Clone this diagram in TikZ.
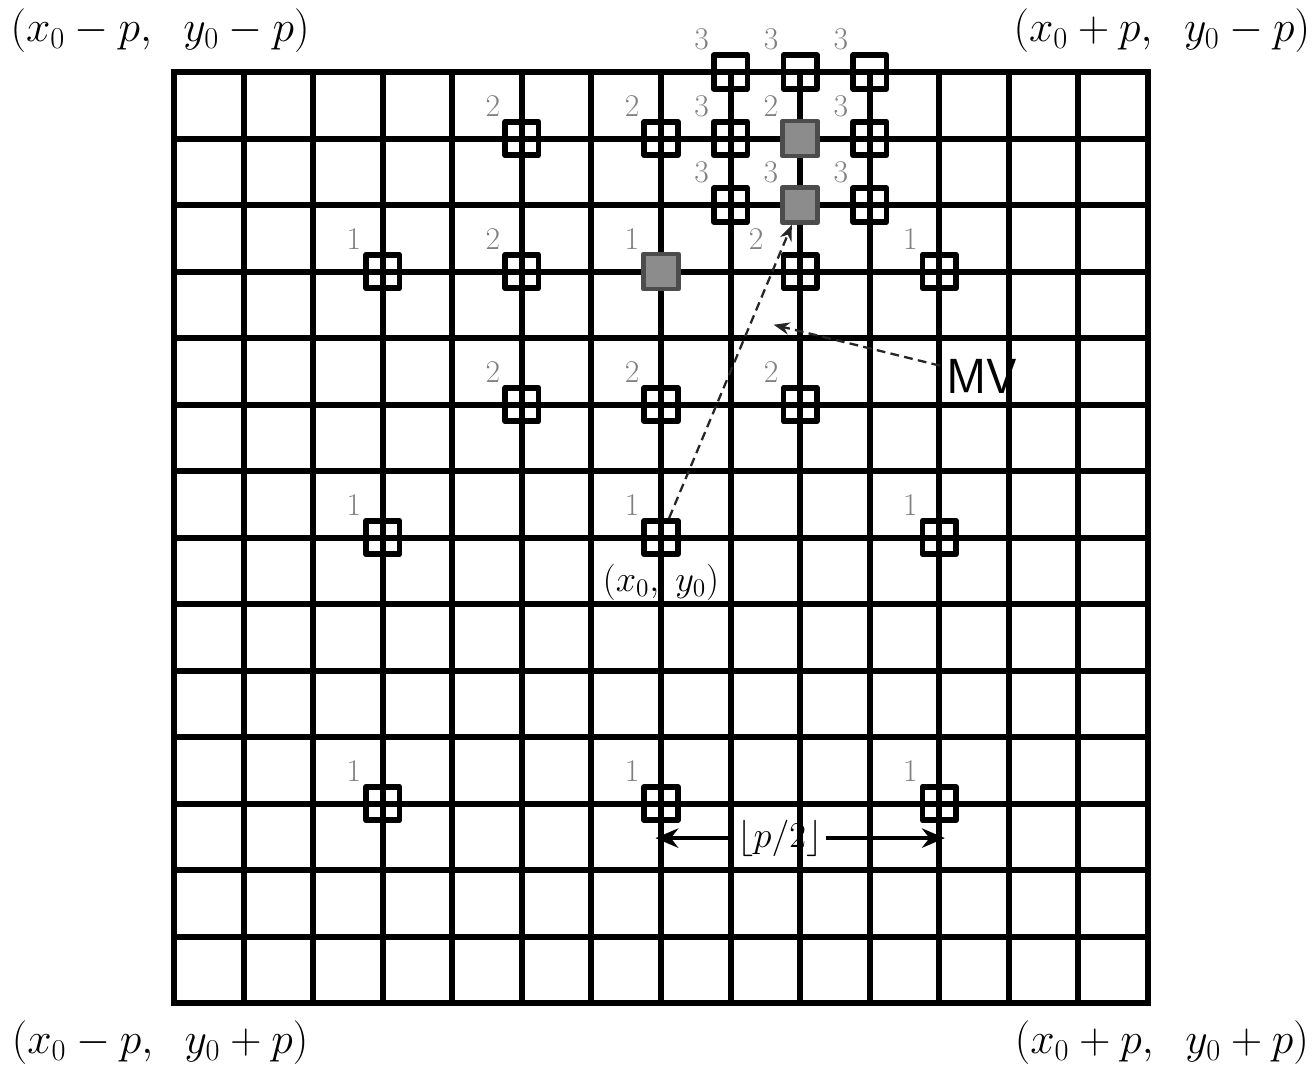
\documentclass[tikz,border=0pt]{standalone}
\usepackage{amsmath}
\usetikzlibrary{arrows.meta}
\begin{document}
\begin{tikzpicture}[x=1.3914cm,y=-1.33cm,line join=round,
	cand/.style={draw,line width=3.2pt,minimum size=0.67cm,inner sep=0pt},
	best/.style={cand,fill=black!45,draw=black!70,line width=2.6pt,minimum size=0.7cm},
	num/.style={text=black!50,inner sep=1pt,font=\fontsize{18}{20}\selectfont},
	lbl/.style={font=\fontsize{22}{26}\selectfont},
	corner/.style={inner sep=1pt,font=\fontsize{24}{28}\selectfont},
	mvline/.style={black!85,line width=1.3pt,dash pattern=on 5pt off 3pt,-{Stealth[length=9pt,width=7pt]}}]
	\useasboundingbox (-2.501,-1.083) rectangle (16.415,14.947);
	\foreach \k in {0,...,14} {
		\draw[line width=3.4pt,line cap=rect] (\k,0) -- (\k,14);
		\draw[line width=3.4pt,line cap=rect] (0,\k) -- (14,\k);
	}
	% corners of the search window
	\node[corner] (tl) at (-0.2,-0.62) {$(x_0 - p,\;\; y_0 - p)$};
	\node[corner] (tr) at (14.2,-0.62) {$(x_0 + p,\;\; y_0 - p)$};
	\node[corner] (bl) at (-0.2,14.6) {$(x_0 - p,\;\; y_0 + p)$};
	\node[corner] (br) at (14.2,14.6) {$(x_0 + p,\;\; y_0 + p)$};
	% step 1
	\foreach \x/\y [count=\i] in {3/3,11/3,3/7,11/7,3/11,7/11,11/11}
		\node[cand,label={[num]135:1}] (a\i) at (\x,\y) {};
	\node[cand,label={[num]135:1}] (c) at (7,7) {};
	\node[best,label={[num]135:1}] (g1) at (7,3) {};
	% step 2
	\foreach \x/\y [count=\i] in {5/1,7/1,5/3,5/5,7/5,9/5}
		\node[cand,label={[num]135:2}] (b\i) at (\x,\y) {};
	\node[cand,label={[num,xshift=-0.3cm]135:2}] (b7) at (9,3) {};
	\node[best,label={[num]135:2}] (g2) at (9,1) {};
	% step 3
	\foreach \x/\y [count=\i] in {8/0,9/0,10/0,8/1,10/1,8/2,10/2}
		\node[cand,label={[num]135:3}] (d\i) at (\x,\y) {};
	\node[best,label={[num]135:3}] (g3) at (9,2) {};
	% motion vector
	\node[lbl] (org) at (7,7.67) {$(x_0,\; y_0)$};
	\draw[mvline] (c) -- (g3);
	\node[anchor=west,font=\sffamily\fontsize{28}{32}\selectfont] (mv) at (11.01,4.57) {MV};
	\coordinate (tip) at (8.62,3.8);
	\draw[mvline] (mv) -- (tip);
	% first step size
	\node[lbl,inner sep=2pt] (half) at (8.71,11.52) {$\lfloor p/2\rfloor$};
	\coordinate (hl) at (6.92,11.52);
	\coordinate (hr) at (11.08,11.52);
	\draw[line width=2.4pt,-{Stealth[length=13pt,width=11pt]}] (half) -- (hl);
	\draw[line width=2.4pt,-{Stealth[length=13pt,width=11pt]}] (half) -- (hr);
\end{tikzpicture}
\end{document}
